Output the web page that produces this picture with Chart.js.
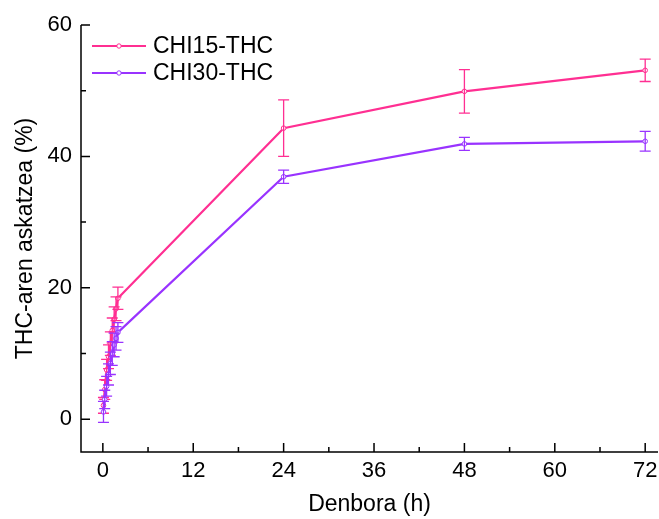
<!DOCTYPE html>
<html>
<head>
<meta charset="utf-8">
<script src="https://cdn.jsdelivr.net/npm/chart.js@4.4.1/dist/chart.umd.min.js"></script>
<style>
  html, body { margin: 0; padding: 0; background: #fff; }
  #wrap { width: 659px; height: 519px; }
</style>
</head>
<body>
<div id="wrap"><canvas id="chart" width="659" height="519"></canvas></div>
<script>
// Sampling times (h)
const times = [0.083, 0.25, 0.5, 0.75, 1, 1.25, 1.5, 1.75, 2, 24, 48, 72];

// Cumulative THC release (%) and standard deviations
const chi15 = [2.1, 4.5, 7.5, 9.5, 11.5, 13.5, 15.2, 16.8, 18.4, 44.3, 49.9, 53.1];
const chi15Err = [1.2, 1.5, 1.6, 1.8, 1.8, 1.9, 1.9, 1.8, 1.7, 4.3, 3.3, 1.7];
const chi30 = [1.1, 3.0, 5.0, 6.8, 8.5, 10.0, 11.3, 12.3, 13.2, 36.9, 41.9, 42.3];
const chi30Err = [1.6, 1.4, 1.5, 1.6, 1.7, 1.8, 1.8, 1.8, 1.5, 1.0, 1.0, 1.5];

const seriesNames = ['CHI15-THC', 'CHI30-THC'];
const xTicks = [0, 12, 24, 36, 48, 60, 72];
const xMinorTicks = [6, 18, 30, 42, 54, 66];
const yTicks = [0, 20, 40, 60];
const yMinorTicks = [10, 30, 50];

const PINK = '#ff2f92';
const PURPLE = '#9933ff';
const FONT = '"Liberation Sans", Arial, sans-serif';

function toPoints(xs, ys) {
  return xs.map((x, i) => ({ x: x, y: ys[i] }));
}

// Vertical error bars with caps for each dataset
const errorBars = {
  id: 'errorBars',
  afterDatasetDraw(chart, args) {
    const ds = chart.data.datasets[args.index];
    if (!ds.errors) return;
    const ctx = chart.ctx;
    const xs = chart.scales.x, ys = chart.scales.y;
    ctx.save();
    ctx.strokeStyle = ds.borderColor;
    ctx.lineWidth = 1.3;
    ds.data.forEach((p, i) => {
      const e = ds.errors[i];
      const px = xs.getPixelForValue(p.x);
      const top = ys.getPixelForValue(p.y + e);
      const bot = ys.getPixelForValue(p.y - e);
      ctx.beginPath();
      ctx.moveTo(px, top); ctx.lineTo(px, bot);
      ctx.moveTo(px - 5.5, top); ctx.lineTo(px + 5.5, top);
      ctx.moveTo(px - 5.5, bot); ctx.lineTo(px + 5.5, bot);
      ctx.stroke();
    });
    ctx.restore();
  }
};

// Axis lines with inward major and minor ticks
const axesFrame = {
  id: 'axesFrame',
  afterDraw(chart) {
    const ctx = chart.ctx;
    const xs = chart.scales.x, ys = chart.scales.y;
    const a = chart.chartArea;
    ctx.save();
    ctx.strokeStyle = '#000';
    ctx.lineWidth = 1.5;
    ctx.beginPath();
    ctx.moveTo(a.left, a.top); ctx.lineTo(a.left, a.bottom); ctx.lineTo(a.right, a.bottom);
    xTicks.forEach(v => { const p = xs.getPixelForValue(v); ctx.moveTo(p, a.bottom); ctx.lineTo(p, a.bottom - 9); });
    xMinorTicks.forEach(v => { const p = xs.getPixelForValue(v); ctx.moveTo(p, a.bottom); ctx.lineTo(p, a.bottom - 5); });
    yTicks.forEach(v => { const p = ys.getPixelForValue(v); ctx.moveTo(a.left, p); ctx.lineTo(a.left + 9, p); });
    yMinorTicks.forEach(v => { const p = ys.getPixelForValue(v); ctx.moveTo(a.left, p); ctx.lineTo(a.left + 5, p); });
    ctx.stroke();
    ctx.restore();
  }
};

// Legend: line sample with marker, then series name
const lineLegend = {
  id: 'lineLegend',
  afterDraw(chart) {
    const ctx = chart.ctx;
    ctx.save();
    ctx.font = '23px ' + FONT;
    ctx.textBaseline = 'middle';
    chart.data.datasets.forEach((ds, i) => {
      const y = 46 + i * 27;
      ctx.strokeStyle = ds.borderColor;
      ctx.lineWidth = 2;
      ctx.beginPath(); ctx.moveTo(92, y); ctx.lineTo(146, y); ctx.stroke();
      ctx.beginPath(); ctx.arc(119, y, 2.2, 0, Math.PI * 2);
      ctx.fillStyle = '#fff'; ctx.fill();
      ctx.lineWidth = 1; ctx.stroke();
      ctx.fillStyle = '#000';
      ctx.fillText(ds.label, 153, y + 1);
    });
    ctx.restore();
  }
};

new Chart(document.getElementById('chart'), {
  type: 'line',
  data: {
    datasets: [
      {
        label: seriesNames[0],
        data: toPoints(times, chi15),
        errors: chi15Err,
        borderColor: PINK,
        backgroundColor: '#fff',
        pointBackgroundColor: '#fff',
        pointBorderColor: PINK,
        order: 2
      },
      {
        label: seriesNames[1],
        data: toPoints(times, chi30),
        errors: chi30Err,
        borderColor: PURPLE,
        backgroundColor: '#fff',
        pointBackgroundColor: '#fff',
        pointBorderColor: PURPLE,
        order: 1
      }
    ]
  },
  options: {
    responsive: false,
    animation: false,
    devicePixelRatio: 1,
    layout: { autoPadding: false, padding: { top: 25, right: 1, left: 0, bottom: 0 } },
    elements: {
      line: { borderWidth: 2.2, tension: 0 },
      point: { radius: 2.3, borderWidth: 1, hoverRadius: 2.3 }
    },
    plugins: { legend: { display: false }, tooltip: { enabled: false } },
    scales: {
      x: {
        type: 'linear',
        min: -2.9,
        max: 73.7,
        grid: { display: false, drawTicks: false },
        border: { display: false },
        afterBuildTicks(s) { s.ticks = xTicks.map(v => ({ value: v })); },
        afterFit(s) { s.height = 67; s.paddingLeft = 0; s.paddingRight = 0; },
        ticks: { color: '#000', font: { family: FONT, size: 22 }, padding: 6, maxRotation: 0, autoSkip: false },
        title: { display: true, text: 'Denbora (h)', color: '#000', font: { family: FONT, size: 23 }, padding: { top: 0, bottom: 1 } }
      },
      y: {
        type: 'linear',
        min: -5,
        max: 60,
        grid: { display: false, drawTicks: false },
        border: { display: false },
        afterBuildTicks(s) { s.ticks = yTicks.map(v => ({ value: v })); },
        afterFit(s) { s.width = 81; s.paddingTop = 0; s.paddingBottom = 0; },
        ticks: { color: '#000', font: { family: FONT, size: 22 }, padding: 9, autoSkip: false },
        title: { display: true, text: 'THC-aren askatzea (%)', color: '#000', font: { family: FONT, size: 23 }, padding: { top: 12, bottom: 0 } }
      }
    }
  },
  plugins: [errorBars, axesFrame, lineLegend]
});
</script>
</body>
</html>
